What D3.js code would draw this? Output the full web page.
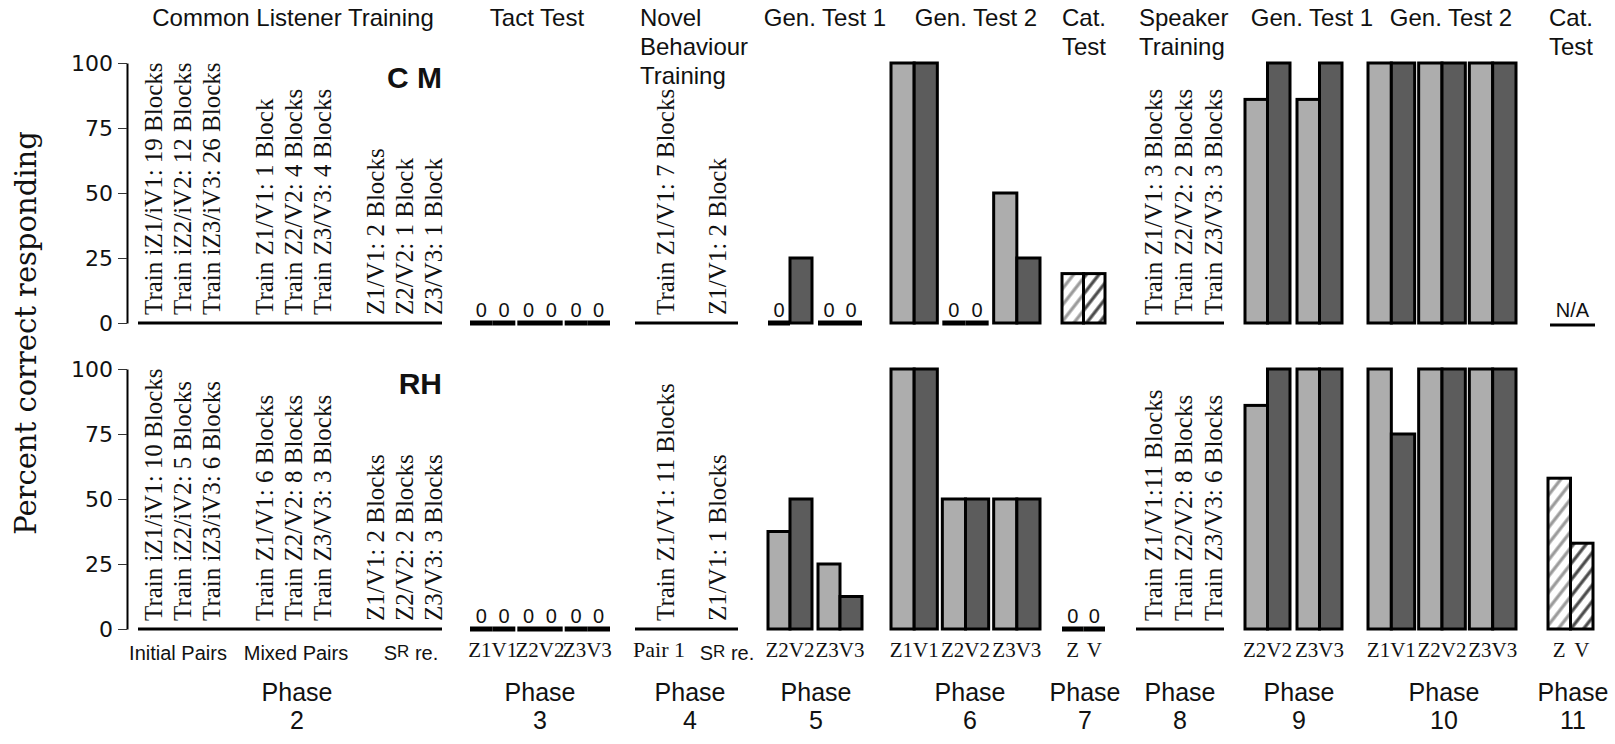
<!DOCTYPE html>
<html>
<head>
<meta charset="utf-8">
<script src="https://cdn.jsdelivr.net/npm/d3@7"></script>
<style>
  body { margin: 0; background: #fff; }
  svg { display: block; }
</style>
</head>
<body>
<svg id="chart" width="1615" height="744"></svg>
<script>
// ---------- data ----------
const tickValues = [0, 25, 50, 75, 100];
const subjects = ["CM", "RH"];
const subjectLabels = ["C M", "RH"];
const phaseNumbers = ["2", "3", "4", "5", "6", "7", "8", "9", "10", "11"];
const phaseTitles = [
  ["Common Listener Training"], ["Tact Test"], ["Novel", "Behaviour", "Training"],
  ["Gen. Test 1"], ["Gen. Test 2"], ["Cat.", "Test"], ["Speaker", "Training"],
  ["Gen. Test 1"], ["Gen. Test 2"], ["Cat.", "Test"]
];

// Phase 2: common listener training (blocks to criterion)
const listenerGroups = ["Initial Pairs", "Mixed Pairs", "SR re."];
const listenerNotesCM = [
  "Train iZ1/iV1: 19 Blocks", "Train iZ2/iV2: 12 Blocks", "Train iZ3/iV3: 26 Blocks",
  "Train Z1/V1: 1 Block", "Train Z2/V2: 4 Blocks", "Train Z3/V3: 4 Blocks",
  "Z1/V1: 2 Blocks", "Z2/V2: 1 Block", "Z3/V3: 1 Block"
];
const listenerNotesRH = [
  "Train iZ1/iV1: 10 Blocks", "Train iZ2/iV2: 5 Blocks", "Train iZ3/iV3: 6 Blocks",
  "Train Z1/V1: 6 Blocks", "Train Z2/V2: 8 Blocks", "Train Z3/V3: 3 Blocks",
  "Z1/V1: 2 Blocks", "Z2/V2: 2 Blocks", "Z3/V3: 3 Blocks"
];
// Phase 4: novel behaviour training
const novelGroups = ["Pair 1", "SR re."];
const novelNotesCM = ["Train Z1/V1: 7 Blocks", "Z1/V1: 2 Block"];
const novelNotesRH = ["Train Z1/V1: 11 Blocks", "Z1/V1: 1 Blocks"];
// Phase 8: speaker training
const speakerNotesCM = ["Train Z1/V1: 3 Blocks", "Train Z2/V2: 2 Blocks", "Train Z3/V3: 3 Blocks"];
const speakerNotesRH = ["Train Z1/V1:11 Blocks", "Train Z2/V2: 8 Blocks", "Train Z3/V3: 6 Blocks"];

// Test phases: percent correct per stimulus
const tactBars = ["Z1", "V1", "Z2", "V2", "Z3", "V3"];
const tactCM = [0, 0, 0, 0, 0, 0];
const tactRH = [0, 0, 0, 0, 0, 0];
const genTest1Bars = ["Z2", "V2", "Z3", "V3"];
const genTest1aCM = [0, 25, 0, 0];
const genTest1aRH = [37.5, 50, 25, 12.5];
const genTest2Bars = ["Z1", "V1", "Z2", "V2", "Z3", "V3"];
const genTest2aCM = [100, 100, 0, 0, 50, 25];
const genTest2aRH = [100, 100, 50, 50, 50, 50];
const catBars = ["Z", "V"];
const catTestACM = [19, 19];
const catTestARH = [0, 0];
const genTest1bCM = [86, 100, 86, 100];
const genTest1bRH = [86, 100, 100, 100];
const genTest2bCM = [100, 100, 100, 100, 100, 100];
const genTest2bRH = [100, 75, 100, 100, 100, 100];
const catTestBCM = null; // not available
const catTestBRH = [58, 33];

// ---------- layout ----------
const svg = d3.select("#chart");
const SANS = "'Liberation Sans', Arial, Helvetica, sans-serif";
const SERIF = "'Liberation Serif', 'Times New Roman', serif";
const LIGHT = "#adadad", DARK = "#5c5c5c";

const panelRange = { CM: [323, 63], RH: [629, 369] };
const yScales = {};
subjects.forEach(s => {
  yScales[s] = d3.scaleLinear().domain([0, 100]).range(panelRange[s]);
});

// hatch patterns for categorisation tests
const defs = svg.append("defs");
[["hatchZ", "#9a9a9a"], ["hatchV", "#4a4a4a"]].forEach(([id, col]) => {
  const p = defs.append("pattern").attr("id", id)
    .attr("patternUnits", "userSpaceOnUse").attr("width", 10).attr("height", 10)
    .attr("patternTransform", "rotate(38)");
  p.append("rect").attr("width", 10).attr("height", 10).attr("fill", "#fff");
  p.append("line").attr("x1", 5).attr("y1", 0).attr("x2", 5).attr("y2", 10)
    .attr("stroke", col).attr("stroke-width", 3.2);
});

// y axes
subjects.forEach(s => {
  const ax = svg.append("g").attr("transform", "translate(127,0)")
    .call(d3.axisLeft(yScales[s]).tickValues(tickValues).tickSize(9).tickSizeOuter(0).tickPadding(5));
  ax.select(".domain").attr("stroke", "#000").attr("stroke-width", 2);
  ax.selectAll(".tick line").attr("stroke", "#333").attr("stroke-width", 1);
  ax.selectAll(".tick text").attr("font-family", "'DejaVu Sans', sans-serif")
    .attr("font-size", 22).attr("fill", "#111");
});

svg.append("text")
  .attr("transform", "translate(36,333) rotate(-90)")
  .attr("text-anchor", "middle")
  .attr("font-family", "'DejaVu Serif', serif").attr("font-size", 29).attr("fill", "#111")
  .text("Percent correct responding");

// subject labels
subjects.forEach((s, i) => {
  svg.append("text").attr("x", 442).attr("y", yScales[s](100) + 25)
    .attr("text-anchor", "end").attr("font-family", SANS).attr("font-weight", "bold")
    .attr("font-size", 30).attr("fill", "#111").text(subjectLabels[i]);
});

// phase geometry (pixel extents, title and label anchors)
const phaseLayout = [
  { x0: 138, x1: 442, titleX: 293, anchor: "middle", labelX: 297 },
  { x0: 470, x1: 610, titleX: 537, anchor: "middle", labelX: 540 },
  { x0: 635, x1: 738, titleX: 640, anchor: "start", labelX: 690 },
  { x0: 768, x1: 862, titleX: 825, anchor: "middle", labelX: 816 },
  { x0: 891, x1: 1040, titleX: 976, anchor: "middle", labelX: 970 },
  { x0: 1062, x1: 1105, titleX: 1062, anchor: "start", labelX: 1085 },
  { x0: 1136, x1: 1224, titleX: 1139, anchor: "start", labelX: 1180 },
  { x0: 1245, x1: 1342, titleX: 1312, anchor: "middle", labelX: 1299 },
  { x0: 1368, x1: 1516, titleX: 1451, anchor: "middle", labelX: 1444 },
  { x0: 1548, x1: 1593, titleX: 1549, anchor: "start", labelX: 1573 }
];

// titles and phase labels
phaseTitles.forEach((lines, i) => {
  const L = phaseLayout[i];
  const t = svg.append("text").attr("text-anchor", L.anchor)
    .attr("font-family", SANS).attr("font-size", 24).attr("fill", "#111");
  lines.forEach((ln, k) => t.append("tspan").attr("x", L.titleX).attr("y", 26 + k * 29).text(ln));
  const p = svg.append("text").attr("text-anchor", "middle")
    .attr("font-family", SANS).attr("font-size", 25).attr("fill", "#111");
  p.append("tspan").attr("x", L.labelX).attr("y", 701).text("Phase");
  p.append("tspan").attr("x", L.labelX).attr("y", 729).text(phaseNumbers[i]);
});

// training phases: baseline plus rotated notes
function baseline(s, L) {
  svg.append("line").attr("x1", L.x0).attr("x2", L.x1)
    .attr("y1", yScales[s](0)).attr("y2", yScales[s](0))
    .attr("stroke", "#000").attr("stroke-width", 3);
}
function notes(s, texts, xs) {
  const y0 = yScales[s](0) - 8;
  svg.append("g").selectAll("text").data(texts).join("text")
    .attr("transform", (d, i) => `translate(${xs[i]},${y0}) rotate(-90)`)
    .attr("dominant-baseline", "central")
    .attr("font-family", SERIF).attr("font-size", 25).attr("fill", "#111")
    .text(d => d);
}
function srLabel(x, y) {
  const t = svg.append("text").attr("x", x).attr("y", y).attr("text-anchor", "middle")
    .attr("font-family", SANS).attr("font-size", 20).attr("fill", "#111");
  t.append("tspan").text("S");
  t.append("tspan").attr("font-size", 17).attr("dy", -3).text("R");
  t.append("tspan").attr("dy", 3).text(" re.");
}

// Phase 2
const listenerCenters = d3.scalePoint().domain(listenerGroups).range([182, 404]);
const listenerCols = listenerGroups.flatMap(g => [-29, 0, 29].map(o => listenerCenters(g) + o));
baseline("CM", phaseLayout[0]); baseline("RH", phaseLayout[0]);
notes("CM", listenerNotesCM, listenerCols);
notes("RH", listenerNotesRH, listenerCols);
listenerGroups.forEach((g, i) => {
  if (g === "SR re.") srLabel(listenerCenters(g) + 7, 660);
  else svg.append("text").attr("x", listenerCenters(g) + (i ? 3 : -4)).attr("y", 660).attr("text-anchor", "middle")
    .attr("font-family", SANS).attr("font-size", 20).attr("fill", "#111").text(g);
});

// Phase 4
const novelCols = d3.scalePoint().domain(novelGroups).range([665, 717]);
baseline("CM", phaseLayout[2]); baseline("RH", phaseLayout[2]);
notes("CM", novelNotesCM, novelGroups.map(novelCols));
notes("RH", novelNotesRH, novelGroups.map(novelCols));
svg.append("text").attr("x", novelCols("Pair 1") - 6).attr("y", 657).attr("text-anchor", "middle")
  .attr("font-family", SERIF).attr("font-size", 22).attr("fill", "#111").text("Pair 1");
srLabel(novelCols("SR re.") + 10, 660);

// Phase 8
const speakerCols = d3.scalePoint().domain(d3.range(3)).range([1153, 1213]);
baseline("CM", phaseLayout[6]); baseline("RH", phaseLayout[6]);
notes("CM", speakerNotesCM, d3.range(3).map(speakerCols));
notes("RH", speakerNotesRH, d3.range(3).map(speakerCols));

// test phases: paired Z / V bars
function bars(s, L, names, values, gap, hatched, showNames) {
  const y = yScales[s];
  const nGroups = names.length / 2;
  const W = L.x1 - L.x0;
  const bw = (W - (nGroups - 1) * gap) / nGroups;
  const groupX = d3.scaleBand().domain(d3.range(nGroups)).range([L.x0, L.x1])
    .paddingInner(nGroups > 1 ? gap / (bw + gap) : 0).paddingOuter(0);
  const barX = d3.scaleBand().domain([0, 1]).range([0, groupX.bandwidth()]);
  const items = names.map((n, i) => ({
    name: n, v: values[i], group: Math.floor(i / 2),
    x: groupX(Math.floor(i / 2)) + barX(i % 2), w: barX.bandwidth(), kind: i % 2
  }));
  const g = svg.append("g");
  g.selectAll("rect.bar").data(items.filter(d => d.v > 0)).join("rect")
    .attr("class", "bar")
    .attr("x", d => d.x).attr("width", d => d.w)
    .attr("y", d => y(d.v)).attr("height", d => y(0) - y(d.v))
    .attr("fill", d => hatched ? (d.kind ? "url(#hatchV)" : "url(#hatchZ)") : (d.kind ? DARK : LIGHT))
    .attr("stroke", "#000").attr("stroke-width", 3);
  const zeros = items.filter(d => d.v === 0);
  g.selectAll("rect.zero").data(zeros).join("rect")
    .attr("class", "zero")
    .attr("x", d => d.x).attr("width", d => d.w)
    .attr("y", y(0) - 2.5).attr("height", 5).attr("fill", "#000");
  g.selectAll("text.zero").data(zeros).join("text")
    .attr("class", "zero")
    .attr("x", d => d.x + d.w / 2).attr("y", y(0) - 6).attr("text-anchor", "middle")
    .attr("font-family", SANS).attr("font-size", 20).attr("fill", "#111")
    .text(d => d.v);
  if (showNames) {
    const single = names.every(n => n.length === 1);
    const labels = single
      ? items.map(d => ({ text: d.name, x: d.x + d.w / 2 }))
      : d3.range(nGroups).map(k => ({
          text: names[2 * k] + names[2 * k + 1],
          x: groupX(k) + groupX.bandwidth() / 2
        }));
    g.selectAll("text.name").data(labels).join("text")
      .attr("class", "name")
      .attr("x", d => d.x).attr("y", 657).attr("text-anchor", "middle")
      .attr("font-family", SERIF).attr("font-size", 21).attr("fill", "#111")
      .text(d => d.text);
  }
}

bars("CM", phaseLayout[1], tactBars, tactCM, 2, false, false);
bars("RH", phaseLayout[1], tactBars, tactRH, 2, false, true);
bars("CM", phaseLayout[3], genTest1Bars, genTest1aCM, 6, false, false);
bars("RH", phaseLayout[3], genTest1Bars, genTest1aRH, 6, false, true);
bars("CM", phaseLayout[4], genTest2Bars, genTest2aCM, 5, false, false);
bars("RH", phaseLayout[4], genTest2Bars, genTest2aRH, 5, false, true);
bars("CM", phaseLayout[5], catBars, catTestACM, 0, true, false);
bars("RH", phaseLayout[5], catBars, catTestARH, 0, true, true);
bars("CM", phaseLayout[7], genTest1Bars, genTest1bCM, 7, false, false);
bars("RH", phaseLayout[7], genTest1Bars, genTest1bRH, 7, false, true);
bars("CM", phaseLayout[8], genTest2Bars, genTest2bCM, 4, false, false);
bars("RH", phaseLayout[8], genTest2Bars, genTest2bRH, 4, false, true);
if (catTestBCM) bars("CM", phaseLayout[9], catBars, catTestBCM, 0, true, false);
else {
  const L = phaseLayout[9], y0 = yScales.CM(0) + 2;
  svg.append("line").attr("x1", L.x0 + 2).attr("x2", L.x1 + 2).attr("y1", y0).attr("y2", y0)
    .attr("stroke", "#000").attr("stroke-width", 3);
  svg.append("text").attr("x", (L.x0 + L.x1) / 2 + 2).attr("y", y0 - 8).attr("text-anchor", "middle")
    .attr("font-family", SANS).attr("font-size", 20).attr("fill", "#111").text("N/A");
}
bars("RH", phaseLayout[9], catBars, catTestBRH, 0, true, true);
</script>
</body>
</html>
